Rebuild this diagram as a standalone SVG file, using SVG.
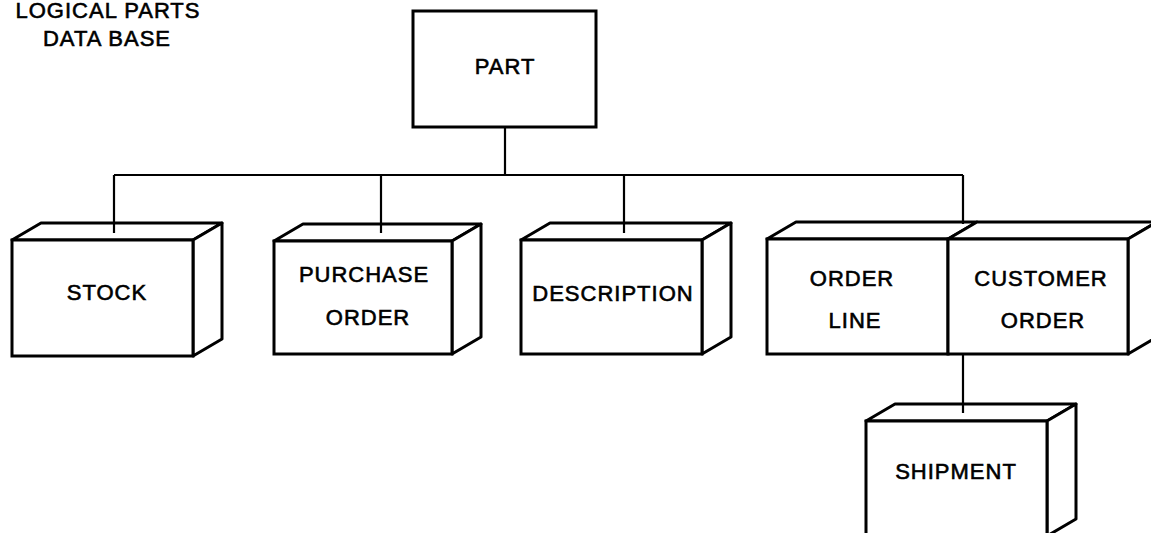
<svg xmlns="http://www.w3.org/2000/svg" width="1151" height="533" viewBox="0 0 1151 533">
<style>
.box{fill:#fff;stroke:#000;stroke-width:3;stroke-linejoin:miter}
.face{fill:#fff;stroke:#000;stroke-width:3;stroke-linejoin:round}
.conn{fill:none;stroke:#000;stroke-width:2.2}
text{font-family:"Liberation Sans",Arial,sans-serif;font-size:22px;fill:#000;stroke:#000;stroke-width:0.6;text-anchor:middle;letter-spacing:1px}
</style>
<rect width="1151" height="533" fill="#fff"/>
<g id="title">
<text x="108" y="18">LOGICAL PARTS</text>
<text x="107" y="46">DATA BASE</text>
</g>
<g id="connectors">
<path class="conn" d="M505,127 V175 M114,175 H963 M114,175 V233 M381,175 V233 M624,175 V233 M963,175 V223 M963,354 V413"/>
</g>
<g id="part">
<rect class="box" x="413" y="11" width="183" height="116"/>
<text x="505" y="74">PART</text>
</g>
<g id="stock">
<polygon class="face" points="12,240 41,223 222,223 193,240"/>
<polygon class="face" points="193,240 222,223 222,339 193,356"/>
<rect class="box" x="12" y="240" width="181" height="116"/>
<line class="conn" x1="114" y1="223" x2="114" y2="233"/>
<text x="107" y="300">STOCK</text>
</g>
<g id="purchase-order">
<polygon class="face" points="274,241 303,224 481,224 452,241"/>
<polygon class="face" points="452,241 481,224 481,337 452,354"/>
<rect class="box" x="274" y="241" width="178" height="113"/>
<line class="conn" x1="381" y1="224" x2="381" y2="233"/>
<text x="364" y="282">PURCHASE</text>
<text x="368" y="325">ORDER</text>
</g>
<g id="description">
<polygon class="face" points="521,240 550,223 731,223 702,240"/>
<polygon class="face" points="702,240 731,223 731,337 702,354"/>
<rect class="box" x="521" y="240" width="181" height="114"/>
<line class="conn" x1="624" y1="223" x2="624" y2="233"/>
<text x="613" y="301">DESCRIPTION</text>
</g>
<g id="order-line">
<polygon class="face" points="767,239 796,222 977,222 948,239"/>
<rect class="box" x="767" y="239" width="181" height="115"/>
<text x="852" y="286">ORDER</text>
<text x="855" y="328">LINE</text>
</g>
<g id="customer-order">
<polygon class="face" points="948,239 977,222 1157,222 1128,239"/>
<polygon class="face" points="1128,239 1157,222 1157,337 1128,354"/>
<rect class="box" x="948" y="239" width="180" height="115"/>
<line class="conn" x1="963" y1="222" x2="963" y2="224"/>
<text x="1041" y="286">CUSTOMER</text>
<text x="1043" y="328">ORDER</text>
</g>
<g id="shipment">
<polygon class="face" points="866,421 895,404 1076,404 1047,421"/>
<polygon class="face" points="1047,421 1076,404 1076,519 1047,536"/>
<rect class="box" x="866" y="421" width="181" height="115"/>
<line class="conn" x1="963" y1="404" x2="963" y2="413"/>
<text x="956" y="479">SHIPMENT</text>
</g>
</svg>
